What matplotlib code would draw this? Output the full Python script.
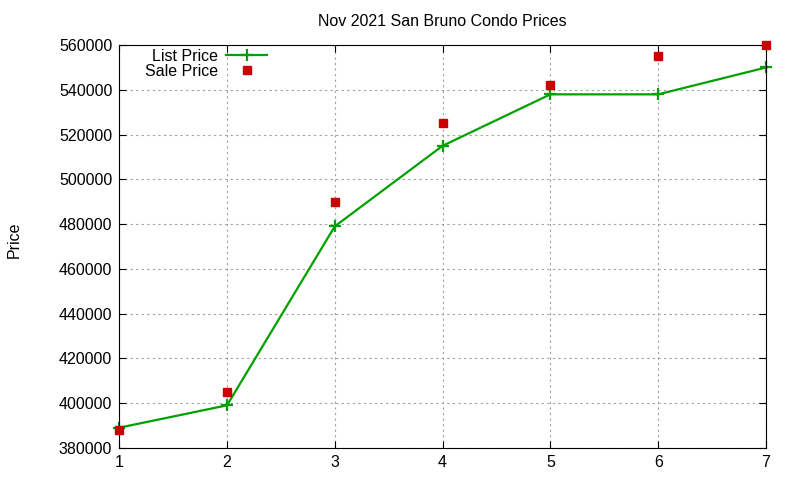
import numpy as np
import matplotlib.pyplot as plt

plt.rcParams['font.family'] = ['Liberation Sans', 'DejaVu Sans']

weeks = [1, 2, 3, 4, 5, 6, 7]
list_price = [389000, 399000, 479000, 515000, 538000, 538000, 550000]
sale_price = [388000, 405000, 490000, 525000, 542000, 555000, 560000]

fig = plt.figure(figsize=(8, 4.8), dpi=100)
ax = fig.add_axes([0.149, 0.067, 0.8085, 0.839])

ax.plot(weeks, list_price, color='#00a000', linewidth=1.6, marker='+',
        markersize=8, markeredgewidth=1.6, label='List Price', clip_on=False)
ax.plot(weeks, sale_price, linestyle='none', marker='s', markersize=5.5,
        color='#cc0000', label='Sale Price', clip_on=False, zorder=3)

ax.set_xlim(1, 7)
ax.set_ylim(380000, 560000)
ax.set_xticks(weeks)
ax.set_yticks(np.arange(380000, 560001, 20000))
ax.tick_params(direction='in', top=True, right=True, labelsize=11.5, length=5,
               pad=5)
ax.grid(True, color='#a0a0a0', linestyle=(0, (2, 3)), linewidth=0.8)

ax.set_title('Nov 2021 San Bruno Condo Prices', fontsize=11.5, pad=14)
fig.text(0.008, 0.5, 'Price', rotation=90, va='center', ha='left', fontsize=11.5)

ax.legend(loc='upper left', bbox_to_anchor=(0.027, 1.01), frameon=False,
          markerfirst=False, fontsize=11.5, handlelength=2.6,
          labelspacing=0.0, borderpad=0.0, handletextpad=0.5)

fig.savefig('out.png', dpi=100)
